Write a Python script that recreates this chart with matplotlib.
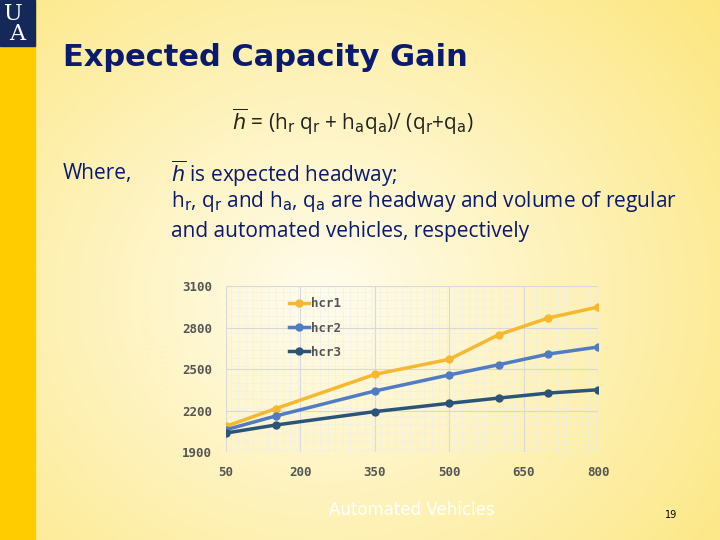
import numpy as np
import matplotlib
matplotlib.use("Agg")
import matplotlib.pyplot as plt
from matplotlib.ticker import MultipleLocator

x_vals = [50, 150, 350, 500, 600, 700, 800]
hcr1 = [2086, 2213, 2461, 2570, 2748, 2869, 2948]
hcr2 = [2061, 2160, 2341, 2457, 2531, 2608, 2659]
hcr3 = [2037, 2095, 2192, 2252, 2290, 2326, 2350]
series_names = ["hcr1", "hcr2", "hcr3"]
colors = ["#F5B82E", "#4F7CC2", "#2A5478"]

fig = plt.figure(figsize=(7.2, 5.4), dpi=100)
bg = fig.add_axes([0, 0, 1, 1])
W, H = 720, 540
xx, yy = np.meshgrid(np.linspace(0, 1, W), np.linspace(0, 1, H))
d = np.sqrt(((xx - 0.45) / 0.75) ** 2 + ((yy - 0.55) / 0.9) ** 2)
t = np.clip(d, 0, 1)
c1 = np.array([1.0, 0.99, 0.93]); c2 = np.array([0.99, 0.90, 0.48])
img = c1[None, None, :] * (1 - t[..., None]) + c2[None, None, :] * t[..., None]
bg.imshow(img, extent=[0, W, H, 0], aspect="auto")
bg.add_patch(plt.Rectangle((0, 0), 35, H, color="#FFCC00"))
bg.add_patch(plt.Rectangle((0, 0), 35, 46, color="#14285A"))
bg.text(13, 14, "U", color="white", fontsize=16, family="DejaVu Serif", ha="center", va="center")
bg.text(17, 34, "A", color="white", fontsize=16, family="DejaVu Serif", ha="center", va="center")
bg.set_xlim(0, W); bg.set_ylim(H, 0); bg.axis("off")
navy = "#0A1A6E"
body = dict(color=navy, fontsize=15, va="center", family="Open Sans")
bg.text(63, 58, "Expected Capacity Gain", color=navy, fontsize=22, fontweight="bold", va="center")
bg.text(232, 122, r"$\overline{h}$ = (h$_\mathrm{r}$ q$_\mathrm{r}$ + h$_\mathrm{a}$q$_\mathrm{a}$)/ (q$_\mathrm{r}$+q$_\mathrm{a}$)",
        color="#222222", fontsize=15, va="center", family="Open Sans")
bg.text(63, 174, "Where,", **body)
bg.text(171, 174, r"$\overline{h}$ is expected headway;", **body)
bg.text(171, 202, r"h$_\mathrm{r}$, q$_\mathrm{r}$ and h$_\mathrm{a}$, q$_\mathrm{a}$ are headway and volume of regular", **body)
bg.text(171, 231, "and automated vehicles, respectively", **body)
bg.text(671, 515, "19", fontsize=7, ha="center", va="center")

ax = fig.add_axes([226/720, 1-452/540, (598-226)/720, (452-286)/540])
ax.set_facecolor("none")
for name, vals, c in zip(series_names, [hcr1, hcr2, hcr3], colors):
    ax.plot(x_vals, vals, color=c, lw=2.5, marker="o", ms=5, label=name)
ax.set_xlim(50, 800); ax.set_ylim(1900, 3100)
ax.set_xticks([50, 200, 350, 500, 650, 800])
ax.set_yticks([1900, 2200, 2500, 2800, 3100])
ax.xaxis.set_minor_locator(MultipleLocator(15))
ax.yaxis.set_minor_locator(MultipleLocator(60))
ax.grid(which="major", color="#D8D8D8", lw=0.8)
ax.grid(which="minor", color="#EEEEEE", lw=0.4)
for s in ax.spines.values():
    s.set_visible(False)
ax.tick_params(which="both", length=0)
ax.tick_params(labelsize=9, colors="#555555", pad=10)
for lab in ax.get_xticklabels() + ax.get_yticklabels():
    lab.set_family("DejaVu Sans Mono"); lab.set_fontweight("bold")
ax.set_xlabel("Automated Vehicles", color="white", fontsize=12, labelpad=16)
ax.set_ylabel("Roadway Capacity\n(veh/h)", color="#FFF3C0", fontsize=11, labelpad=8)
leg = ax.legend(loc="upper left", bbox_to_anchor=(0.14, 1.0), frameon=False,
                handlelength=1.6, handletextpad=0.1, labelspacing=0.9,
                prop={"family": "DejaVu Sans Mono", "weight": "bold", "size": 9})
for t_ in leg.get_texts():
    t_.set_color("#555555")
fig.savefig("out.png", dpi=100)
